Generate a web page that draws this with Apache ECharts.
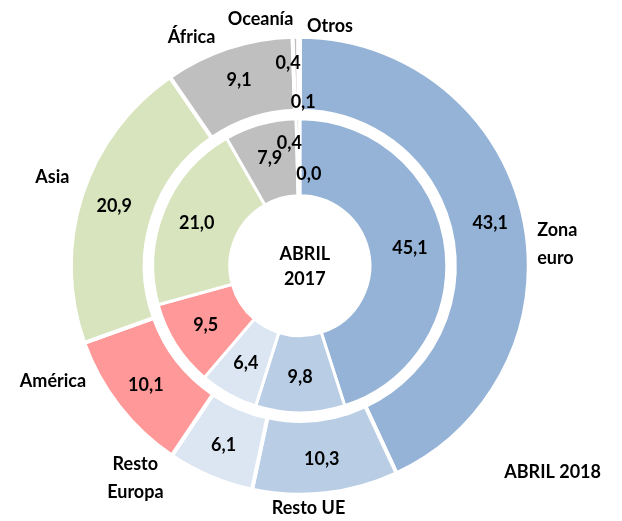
<!DOCTYPE html>
<html>
<head>
<meta charset="utf-8">
<script src="https://cdn.jsdelivr.net/npm/echarts@6/dist/echarts.min.js"></script>
<style>html,body{margin:0;padding:0;background:#fff}#c{width:622px;height:521px}</style>
</head>
<body>
<div id="c"></div>
<script>
var categories = ['Zona\neuro', 'Resto UE', 'Resto\nEuropa', 'América', 'Asia', 'África', 'Oceanía', 'Otros'];
var values2018 = [43.1, 10.3, 6.1, 10.1, 20.9, 9.1, 0.4, 0.1];
var values2017 = [45.1, 9.8, 6.4, 9.5, 21.0, 7.9, 0.4, 0.0];
var colors = ['#95B3D7', '#B9CDE5', '#DCE6F2', '#FF9999', '#D7E4BD', '#BFBFBF', '#BFBFBF', '#DCE6F2'];
var innerTitle = 'ABRIL\n2017';
var outerTitle = 'ABRIL 2018';

var FONT = 'Lato';
var FS = 18;
function fmt(v) { return v.toFixed(1).replace('.', ','); }
function mk(vals) {
  return vals.map(function (v, i) {
    return { name: categories[i], value: v, itemStyle: { color: colors[i] } };
  });
}
// label nudges (dataIndex -> layout tweak)
var outerNudge = { 6: { dx: -8, dy: -8 }, 7: { dx: 4, dy: 31 } };
var innerNudge = { 6: { dx: -9, dy: -11 }, 7: { dx: 9, dy: 20 } };
var nameNudge = {
  0: { dx: -1, dy: 30 },
  1: { dx: -60, dy: 5 },
  2: { dx: -66, dy: -7, align: 'center' },
  3: { dx: -20, dy: -31 },
  4: { dx: 2, dy: -15 },
  5: { dx: -5, dy: -1 },
  6: { dx: 3, dy: -8 },
  7: { dx: 13, dy: -1, align: 'left' }
};
function nudge(map) {
  return function (p) { return map[p.dataIndex] || {}; };
}

var center = ['48.2%', '51%'];
var chart = echarts.init(document.getElementById('c'), null, { renderer: 'canvas' });
chart.setOption({
  backgroundColor: '#fff',
  animation: false,
  title: [{
    text: innerTitle, left: '48.2%', top: '45.5%', textAlign: 'center',
    textStyle: { fontFamily: FONT, fontWeight: 'bold', fontSize: FS, color: '#000', lineHeight: 25 }
  }, {
    text: outerTitle, right: 16, top: 458,
    textStyle: { fontFamily: FONT, fontWeight: 'bold', fontSize: FS, color: '#000' }
  }],
  series: [{
    type: 'pie', name: '2017', radius: [70, 147], center: center, startAngle: 90,
    clockwise: true, avoidLabelOverlap: false, silent: true,
    itemStyle: { borderColor: '#fff', borderWidth: 3 },
    label: { show: true, position: 'inside', fontFamily: FONT, fontWeight: 'bold', fontSize: FS, color: '#000',
      formatter: function (p) { return fmt(p.value); } },
    labelLine: { show: false },
    labelLayout: nudge(innerNudge),
    data: mk(values2017)
  }, {
    type: 'pie', name: '2018', radius: [155, 229], center: center, startAngle: 90,
    clockwise: true, avoidLabelOverlap: false, silent: true,
    itemStyle: { borderColor: '#fff', borderWidth: 4 },
    label: { show: true, position: 'inside', fontFamily: FONT, fontWeight: 'bold', fontSize: FS, color: '#000',
      formatter: function (p) { return fmt(p.value); } },
    labelLine: { show: false },
    labelLayout: nudge(outerNudge),
    data: mk(values2018)
  }, {
    type: 'pie', name: 'names', radius: [155, 229], center: center, startAngle: 90,
    clockwise: true, avoidLabelOverlap: false, silent: true,
    itemStyle: { color: 'rgba(0,0,0,0)', borderWidth: 0 },
    label: { show: true, position: 'outside', fontFamily: FONT, fontWeight: 'bold', fontSize: FS, color: '#000',
      lineHeight: 28, formatter: '{b}' },
    labelLine: { show: false, length: 10, length2: 0 },
    labelLayout: nudge(nameNudge),
    data: values2018.map(function (v, i) { return { name: categories[i], value: v }; })
  }]
});
</script>
</body>
</html>
